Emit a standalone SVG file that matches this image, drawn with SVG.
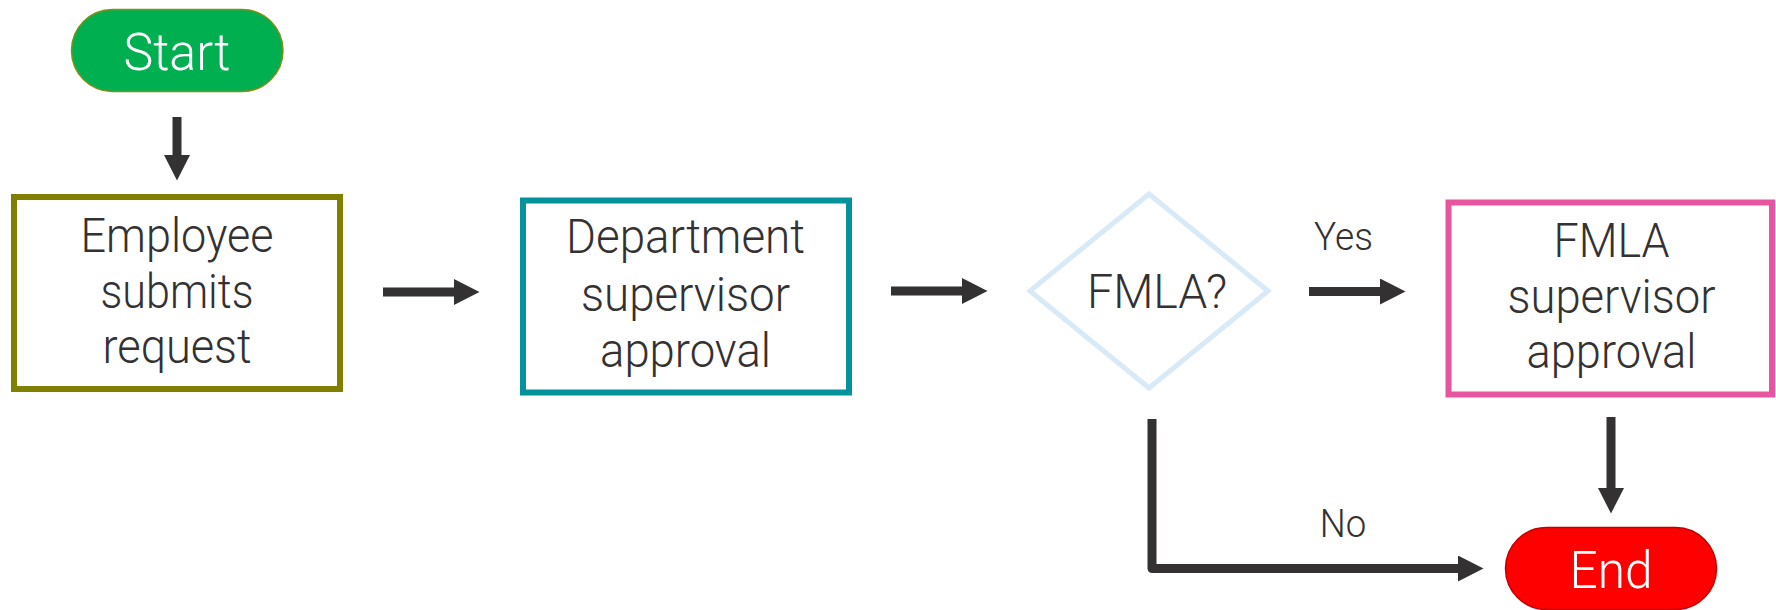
<svg xmlns="http://www.w3.org/2000/svg" width="1776" height="610" viewBox="0 0 1776 610">
<style>
  .t { font-family: Roboto, "Liberation Sans", Arial, sans-serif; font-weight: 300; fill: #333132; text-anchor: middle; }
  .b { font-size: 48px; }
  .lbl { font-size: 39px; }
  .term { font-family: Roboto, "Liberation Sans", Arial, sans-serif; font-weight: 300; fill: #ffffff; text-anchor: middle; font-size: 52px; }
  .box { fill: #ffffff; stroke-width: 6; }
  .conn { fill: none; stroke: #333132; stroke-width: 9; stroke-linejoin: round; }
</style>
<defs>
  <marker id="ah" markerUnits="userSpaceOnUse" markerWidth="26" markerHeight="26" refX="0" refY="13" orient="auto" viewBox="0 0 26 26">
    <path d="M0,0 L25.5,13 L0,26 Z" fill="#333132"/>
  </marker>
</defs>
<rect width="1776" height="610" fill="#ffffff"/>

<g id="start">
  <rect x="71.5" y="9.5" width="211.5" height="82" rx="41" fill="#00B050" stroke="#7f8f1a" stroke-width="1.5"/>
  <text class="term" x="177" y="70" textLength="107" lengthAdjust="spacingAndGlyphs">Start</text>
</g>

<g id="employee">
  <rect class="box" x="14" y="197" width="326" height="192" stroke="#808000"/>
  <text class="t b" x="177" y="252" textLength="193" lengthAdjust="spacingAndGlyphs">Employee</text>
  <text class="t b" x="177" y="308" textLength="153" lengthAdjust="spacingAndGlyphs">submits</text>
  <text class="t b" x="177" y="363" textLength="149" lengthAdjust="spacingAndGlyphs">request</text>
</g>

<g id="department">
  <rect class="box" x="523" y="200.5" width="326" height="192" stroke="#04939C"/>
  <text class="t b" x="685.5" y="253" textLength="239" lengthAdjust="spacingAndGlyphs">Department</text>
  <text class="t b" x="685.5" y="310.5" textLength="209" lengthAdjust="spacingAndGlyphs">supervisor</text>
  <text class="t b" x="685.5" y="366.5" textLength="171" lengthAdjust="spacingAndGlyphs">approval</text>
</g>

<g id="decision">
  <polygon points="1149,194 1268,291 1149,388 1030,291" fill="#ffffff" stroke="#D8EAF7" stroke-width="5"/>
  <text class="t b" x="1157" y="308" textLength="140" lengthAdjust="spacingAndGlyphs">FMLA?</text>
</g>

<g id="fmla">
  <rect class="box" x="1448.5" y="202.5" width="323.5" height="192" stroke="#E6559E"/>
  <text class="t b" x="1611.5" y="256.5" textLength="116" lengthAdjust="spacingAndGlyphs">FMLA</text>
  <text class="t b" x="1611.5" y="313" textLength="208" lengthAdjust="spacingAndGlyphs">supervisor</text>
  <text class="t b" x="1611.5" y="368" textLength="170" lengthAdjust="spacingAndGlyphs">approval</text>
</g>

<g id="end">
  <rect x="1505.5" y="527.5" width="211" height="82" rx="41" fill="#FF0000" stroke="#C00000" stroke-width="1.5"/>
  <text class="term" x="1611" y="588" textLength="83" lengthAdjust="spacingAndGlyphs">End</text>
</g>

<g id="connectors">
  <line class="conn" x1="177" y1="117" x2="177" y2="155" marker-end="url(#ah)"/>
  <line class="conn" x1="383" y1="292" x2="454" y2="292" marker-end="url(#ah)"/>
  <line class="conn" x1="891" y1="291" x2="962" y2="291" marker-end="url(#ah)"/>
  <line class="conn" x1="1309" y1="291.5" x2="1380" y2="291.5" marker-end="url(#ah)"/>
  <line class="conn" x1="1611" y1="417" x2="1611" y2="488" marker-end="url(#ah)"/>
  <path class="conn" d="M1152,419 L1152,568.5 L1458,568.5" marker-end="url(#ah)"/>
  <text class="t lbl" x="1343.5" y="250" textLength="59" lengthAdjust="spacingAndGlyphs">Yes</text>
  <text class="t lbl" x="1343" y="537" textLength="46.5" lengthAdjust="spacingAndGlyphs">No</text>
</g>
</svg>
